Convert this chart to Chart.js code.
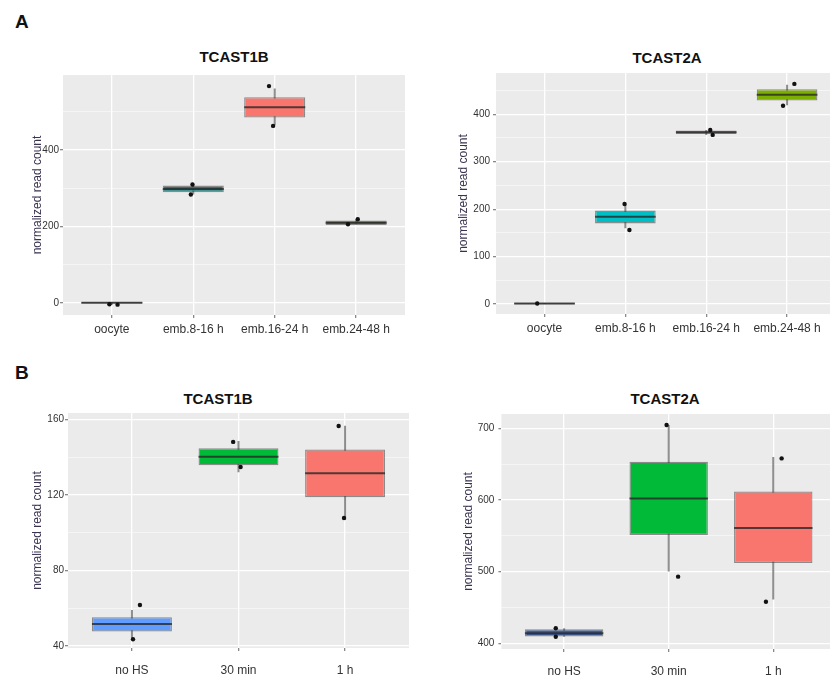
<!DOCTYPE html>
<html>
<head>
<meta charset="utf-8">
<script src="https://cdn.jsdelivr.net/npm/chart.js@4.4.0/dist/chart.umd.min.js"></script>
<style>
  body { margin: 0; width: 830px; height: 675px; overflow: hidden; background: #fff; position: relative; font-family: "Liberation Sans", Arial, sans-serif; }
  canvas { position: absolute; }
  .ttl { position: absolute; font-weight: bold; font-size: 15px; transform: translate(-50%, -50%); white-space: nowrap; color: #111; }
  .lbl { position: absolute; font-weight: bold; font-size: 19px; color: #111; }
</style>
</head>
<body>
<div class="lbl" style="left:15px;top:11px">A</div>
<div class="lbl" style="left:15px;top:362px">B</div>
<div class="ttl" style="left:234px;top:56px">TCAST1B</div>
<div class="ttl" style="left:667px;top:57px">TCAST2A</div>
<div class="ttl" style="left:218px;top:398px">TCAST1B</div>
<div class="ttl" style="left:665px;top:398px">TCAST2A</div>
<canvas id="a1" width="415" height="285" style="left:0;top:60px"></canvas>
<canvas id="a2" width="420" height="284" style="left:420px;top:60px"></canvas>
<canvas id="b1" width="420" height="278" style="left:0;top:400px"></canvas>
<canvas id="b2" width="420" height="279" style="left:420px;top:400px"></canvas>
<script>
// A: developmental stages
const stageCats = ["oocyte", "emb.8-16 h", "emb.16-24 h", "emb.24-48 h"];

const a1Q1 = [-1, 290, 485, 204];
const a1Med = [1, 298, 512, 210];
const a1Q3 = [3, 307, 538, 216];
const a1Lo = [-4, 284, 465, 206];
const a1Hi = [3, 310, 561, 218];
const a1Pts = [[-3, -4], [310, 284], [567, 463], [219, 206]];
const a1Jit = [[-0.03, 0.07], [-0.01, -0.03], [-0.07, -0.02], [0.02, -0.1]];
const a1Fill = ["#5a5a5a", "#1a7c7c", "#F8766D", "#535e2d"];

const a2Q1 = [-1, 170, 358.6, 429];
const a2Med = [1, 184, 362, 441];
const a2Q3 = [2, 197, 365.6, 453];
const a2Lo = [0, 160, 356.5, 419];
const a2Hi = [2, 211, 367, 462];
const a2Pts = [[1], [211, 156], [367, 356.5], [464, 418]];
const a2Jit = [[-0.09], [-0.01, 0.05], [0.05, 0.08], [0.09, -0.05]];
const a2Fill = ["#6a6a6a", "#00BFC4", "#5c3a3a", "#7CAE00"];

// B: heat shock time course
const hsCats = ["no HS", "30 min", "1 h"];

const b1Q1 = [47.6, 135.6, 118.7];
const b1Med = [51.6, 140.2, 131.4];
const b1Q3 = [55.2, 144.6, 144];
const b1Lo = [44, 132, 106.7];
const b1Hi = [59, 148.5, 156.5];
const b1Pts = [[61.7, 43.5], [148, 134.7], [156.4, 107.7]];
const b1Jit = [[0.075, 0.01], [-0.05, 0.02], [-0.06, -0.01]];
const b1Fill = ["#619CFF", "#00BA38", "#F8766D"];

const b2Q1 = [409.3, 551, 512];
const b2Med = [414, 602, 561];
const b2Q3 = [419.5, 653.5, 612];
const b2Lo = [409, 500, 461];
const b2Hi = [421, 704.6, 660];
const b2Pts = [[421, 409], [704.6, 493], [658, 458]];
const b2Jit = [[-0.08, -0.08], [-0.02, 0.09], [0.08, -0.07]];
const b2Fill = ["#3E5C99", "#00BA38", "#F8766D"];

const panelBg = {
  id: "panelBg",
  beforeDraw(chart) {
    const { ctx, chartArea: a } = chart;
    ctx.save();
    ctx.fillStyle = "#EBEBEB";
    ctx.fillRect(a.left, a.top, a.width, a.height);
    ctx.restore();
  },
};

function boxChart(id, p) {
  const n = p.cats.length;
  const whiskers = [], medians = [], boxes = [], points = [];
  for (let i = 0; i < n; i++) {
    const x = i + 1;
    whiskers.push({ x: x, y: p.lo[i] }, { x: x, y: p.hi[i] }, { x: x, y: null });
    medians.push({ x: x - 0.375, y: p.med[i] }, { x: x + 0.375, y: p.med[i] }, { x: x, y: null });
    boxes.push({ x: x, y: [p.q1[i], p.q3[i]] });
    p.pts[i].forEach((v, j) => points.push({ x: x + p.jit[i][j], y: v }));
  }
  const yTicks = p.major.concat(p.minor).sort((a, b) => a - b);

  return new Chart(document.getElementById(id), {
    type: "bar",
    data: {
      datasets: [
        {
          type: "line",
          data: whiskers,
          borderColor: "rgba(105,105,105,0.75)",
          borderWidth: 2,
          pointRadius: 0,
          spanGaps: false,
          order: 4,
        },
        {
          type: "bar",
          data: boxes,
          backgroundColor: p.fill,
          borderColor: "rgba(60,60,60,0.55)",
          borderWidth: 1.3,
          borderSkipped: false,
          barPercentage: 0.75,
          categoryPercentage: 1,
          order: 3,
        },
        {
          type: "line",
          data: medians,
          borderColor: "rgba(40,40,40,0.8)",
          borderWidth: 2,
          pointRadius: 0,
          spanGaps: false,
          order: 2,
        },
        {
          type: "scatter",
          data: points,
          pointRadius: 2.2,
          backgroundColor: "#111",
          borderWidth: 0,
          order: 1,
        },
      ],
    },
    options: {
      responsive: false,
      animation: false,
      layout: { padding: p.pad },
      plugins: { legend: { display: false }, tooltip: { enabled: false } },
      scales: {
        x: {
          type: "linear",
          min: 0.4,
          max: n + 0.6,
          offset: false,
          afterBuildTicks: (s) => { s.ticks = p.cats.map((_, i) => ({ value: i + 1 })); },
          afterFit: (s) => { s.height = 30; },
          ticks: {
            callback: (v) => p.cats[v - 1],
            autoSkip: false,
            maxRotation: 0,
            padding: p.xPad,
            color: "#333",
            font: { family: "Liberation Sans", size: 12 },
          },
          grid: { color: "#fff", lineWidth: 1.3, offset: false, tickLength: 3, tickColor: "#888" },
          border: { display: false },
        },
        y: {
          min: p.yMin,
          max: p.yMax,
          afterBuildTicks: (s) => { s.ticks = yTicks.map((v) => ({ value: v })); },
          afterFit: (s) => { s.width = p.yWidth; },
          ticks: {
            callback: (v) => (p.major.includes(v) ? String(v) : ""),
            padding: p.yPad,
            color: "#333",
            font: { family: "Liberation Sans", size: 10 },
          },
          grid: {
            color: (c) => (p.major.includes(c.tick.value) ? "#fff" : "rgba(255,255,255,0.75)"),
            lineWidth: (c) => (p.major.includes(c.tick.value) ? 1.3 : 0.7),
            tickLength: 3,
            tickColor: (c) => (p.major.includes(c.tick.value) ? "#888" : "transparent"),
          },
          border: { display: false },
          title: {
            display: true,
            text: "normalized read count",
            color: "#3a3350",
            padding: 0,
            font: { family: "Liberation Sans", size: 12 },
          },
        },
      },
    },
    plugins: [panelBg],
  });
}

boxChart("a1", {
  cats: stageCats, q1: a1Q1, med: a1Med, q3: a1Q3, lo: a1Lo, hi: a1Hi,
  pts: a1Pts, jit: a1Jit, fill: a1Fill,
  yMin: -31, yMax: 596, major: [0, 200, 400], minor: [100, 300, 500],
  pad: { left: 30, top: 15, right: 10, bottom: 0 }, yWidth: 33, xPad: 4, yPad: 1,
});
boxChart("a2", {
  cats: stageCats, q1: a2Q1, med: a2Med, q3: a2Q3, lo: a2Lo, hi: a2Hi,
  pts: a2Pts, jit: a2Jit, fill: a2Fill,
  yMin: -21, yMax: 487, major: [0, 100, 200, 300, 400], minor: [50, 150, 250, 350, 450],
  pad: { left: 36, top: 13, right: 4.4, bottom: 0 }, yWidth: 40, xPad: 4, yPad: 3,
});
boxChart("b1", {
  cats: hsCats, q1: b1Q1, med: b1Med, q3: b1Q3, lo: b1Lo, hi: b1Hi,
  pts: b1Pts, jit: b1Jit, fill: b1Fill,
  yMin: 38.9, yMax: 163.3, major: [40, 80, 120, 160], minor: [60, 100, 140],
  pad: { left: 30, top: 13, right: 11, bottom: 0 }, yWidth: 38, xPad: 12, yPad: 1,
});
boxChart("b2", {
  cats: hsCats, q1: b2Q1, med: b2Med, q3: b2Q3, lo: b2Lo, hi: b2Hi,
  pts: b2Pts, jit: b2Jit, fill: b2Fill,
  yMin: 392, yMax: 720, major: [400, 500, 600, 700], minor: [450, 550, 650],
  pad: { left: 41, top: 14, right: 0, bottom: 0 }, yWidth: 40.4, xPad: 12, yPad: 4,
});
</script>
</body>
</html>
